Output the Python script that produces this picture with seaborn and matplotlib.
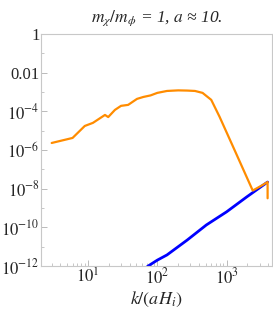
import numpy as np
import pandas as pd
import matplotlib
matplotlib.use("Agg")
import matplotlib.pyplot as plt
import matplotlib.ticker as mticker
import seaborn as sns

# orange curve (log10 of y)
orange_k = [3.0, 6.0, 9.0, 11.8, 17.6, 19.6, 24.5, 30, 38, 51, 63, 80, 100, 138,
            200, 270, 350, 450, 600, 790, 1300, 2380, 3000, 3900, 3900]
orange_logy = [-5.64, -5.38, -4.76, -4.6, -4.19, -4.3, -3.93, -3.72, -3.67, -3.36,
               -3.26, -3.18, -3.05, -2.95, -2.92, -2.93, -2.95, -3.05, -3.41, -4.28,
               -6.0, -8.1, -7.9, -7.66, -8.5]

# blue curve
blue_k = [63, 74, 100, 138, 270, 510, 1000, 1950, 3900]
blue_logy = [-12.2, -12.0, -11.7, -11.43, -10.66, -9.88, -9.2, -8.43, -7.66]

title = r"$m_\chi/m_\phi$ = 1, $a$ ≈ 10."
xlabel = r"$k/(aH_i)$"

sns.set_style("ticks")
plt.rcParams["font.family"] = ["Liberation Serif", "DejaVu Serif"]
plt.rcParams["mathtext.fontset"] = "stix"

orange = pd.DataFrame({"k": orange_k, "y": 10.0 ** np.array(orange_logy)})
blue = pd.DataFrame({"k": blue_k, "y": 10.0 ** np.array(blue_logy)})

fig = plt.figure(figsize=(2.73, 3.14), dpi=100)
ax = fig.add_axes([0.150, 0.153, 0.846, 0.739])

sns.lineplot(data=blue, x="k", y="y", ax=ax, color="#0000ff", lw=2.0,
             sort=False, estimator=None)
sns.lineplot(data=orange, x="k", y="y", ax=ax, color="#ff8c00", lw=1.6,
             sort=False, estimator=None)

ax.set_xscale("log")
ax.set_yscale("log")
ax.set_xlim(2.1, 4500)
ax.set_ylim(1e-12, 1)

ax.xaxis.set_major_locator(mticker.FixedLocator([10, 100, 1000]))
ax.xaxis.set_major_formatter(mticker.FixedFormatter([r"$10^1$", r"$10^2$", r"$10^3$"]))
ax.xaxis.set_minor_locator(mticker.LogLocator(base=10, subs=np.arange(2, 10), numticks=20))
ax.xaxis.set_minor_formatter(mticker.NullFormatter())

yt = [1, 1e-2, 1e-4, 1e-6, 1e-8, 1e-10, 1e-12]
ylabs = ["1", "0.01", r"$10^{-4}$", r"$10^{-6}$", r"$10^{-8}$", r"$10^{-10}$", r"$10^{-12}$"]
ax.yaxis.set_major_locator(mticker.FixedLocator(yt))
ax.yaxis.set_major_formatter(mticker.FixedFormatter(ylabs))
ax.yaxis.set_minor_locator(mticker.FixedLocator([1e-1, 1e-3, 1e-5, 1e-7, 1e-9, 1e-11]))
ax.yaxis.set_minor_formatter(mticker.NullFormatter())

for s in ax.spines.values():
    s.set_color("#c8c8c8")
    s.set_linewidth(0.8)
ax.tick_params(which="both", direction="in", color="#b0b0b0", labelsize=12,
               pad=1)
ax.tick_params(which="major", length=4, width=0.6)
ax.tick_params(which="minor", length=2, width=0.5)

ax.set_xlabel(xlabel, fontsize=13, labelpad=2)
ax.set_ylabel("")
ax.set_title(title, fontsize=12.5, pad=9, style="italic")

fig.savefig("out.png", dpi=100)
